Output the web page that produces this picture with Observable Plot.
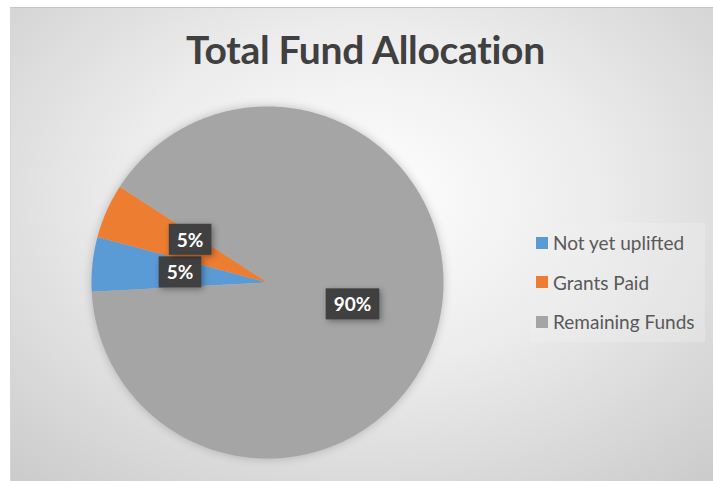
<!DOCTYPE html>
<html>
<head>
<meta charset="utf-8">
<script src="https://cdn.jsdelivr.net/npm/d3@7"></script>
<script src="https://cdn.jsdelivr.net/npm/@observablehq/plot@0.6"></script>
<style>
  body { margin: 0; background: #ffffff; font-family: Lato, "Open Sans", sans-serif; }
  #chart { position: relative; width: 713px; height: 481px; overflow: hidden; background: #ffffff; }
  #bg { position: absolute; left: 10px; top: 7px; right: 0; bottom: 0;
        background: radial-gradient(ellipse 75% 80% at 50% 40%, #ffffff 0%, #ececec 45%, #cbcbcb 100%);
        border-top: 1px solid #c4c4c4; border-left: 1px solid #d6d6d6; }
  #plot { position: absolute; left: 0; top: 0; }
  #title { position: absolute; left: 18px; right: 0; top: 26px; text-align: center;
           font-size: 39px; font-weight: 700; color: #404040; letter-spacing: -0.3px; }
  #legend { position: absolute; left: 530px; top: 223px; width: 175px; height: 119px;
            background: rgba(240,240,240,0.35); box-sizing: border-box; padding-top: 0px; }
  .li { height: 39.5px; display: flex; align-items: center; font-size: 19px; color: #595959; }
  .sw { width: 12px; height: 12px; margin-left: 6px; margin-right: 5px; flex: none; }
  .pie { filter: drop-shadow(0 0 5px rgba(0,0,0,0.22)); }
  .lab rect { filter: drop-shadow(2px 2px 3px rgba(0,0,0,0.35)); }
</style>
</head>
<body>
<div id="chart">
  <div id="bg"></div>
  <div id="plot"></div>
  <div id="title"></div>
  <div id="legend"></div>
</div>
<script>
// ---- data ----
const title = "Total Fund Allocation";
const categories = ["Not yet uplifted", "Grants Paid", "Remaining Funds"];
const values = [5, 5, 90];
const labels = ["5%", "5%", "90%"];
const colors = ["#5B9BD5", "#ED7D31", "#A5A5A5"];
const firstSliceAngle = 267; // degrees, clockwise from 12 o'clock

// ---- build slices ----
const rad = d => d * Math.PI / 180;
const arcs = d3.pie().sort(null)
  .startAngle(rad(firstSliceAngle))
  .endAngle(rad(firstSliceAngle + 360))(values);

const pts = [];
arcs.forEach((a, i) => {
  const cat = categories[i];
  pts.push({cat, x: 0, y: 0});
  const n = Math.max(2, Math.ceil((a.endAngle - a.startAngle) / rad(1)));
  for (let k = 0; k <= n; k++) {
    const t = a.startAngle + (a.endAngle - a.startAngle) * k / n;
    pts.push({cat, x: Math.sin(t), y: Math.cos(t)});
  }
});
const labelData = arcs.map((a, i) => {
  const m = (a.startAngle + a.endAngle) / 2;
  return {cat: categories[i], label: labels[i], x: 0.5 * Math.sin(m), y: 0.5 * Math.cos(m), i};
});

const plot = Plot.plot({
  width: 713, height: 481,
  marginLeft: 91, marginRight: 270, marginTop: 106, marginBottom: 23,
  x: {domain: [-1, 1], axis: null},
  y: {domain: [-1, 1], axis: null},
  color: {domain: categories, range: colors},
  style: {background: "transparent", overflow: "visible"},
  marks: [
    Plot.line(pts, {x: "x", y: "y", z: "cat", fill: "cat", stroke: null, curve: "linear-closed", className: "pie"}),
    Plot.text(labelData.filter(d => d.i !== 1), {x: "x", y: "y", text: "label", fill: "white",
      fontWeight: "bold", fontSize: 19, fontFamily: "Lato, sans-serif", className: "lab"}),
    Plot.text(labelData.filter(d => d.i === 1), {x: "x", y: "y", text: "label", fill: "white", dx: 3, dy: -6,
      fontWeight: "bold", fontSize: 19, fontFamily: "Lato, sans-serif", className: "lab"})
  ]
});
document.getElementById("plot").appendChild(plot);

// dark label boxes behind the text
plot.querySelectorAll("g.lab").forEach(g => {
  g.querySelectorAll("text").forEach(t => {
    const b = t.getBBox();
    const r = document.createElementNS("http://www.w3.org/2000/svg", "rect");
    r.setAttribute("x", b.x - 8);
    r.setAttribute("y", b.y - 4);
    r.setAttribute("width", b.width + 16);
    r.setAttribute("height", b.height + 8);
    r.setAttribute("fill", "#404040");
    const tr = t.getAttribute("transform");
    if (tr) r.setAttribute("transform", tr);
    t.parentNode.insertBefore(r, t);
  });
});

document.getElementById("title").textContent = title;
const lg = document.getElementById("legend");
categories.forEach((c, i) => {
  const row = document.createElement("div");
  row.className = "li";
  const sw = document.createElement("span");
  sw.className = "sw";
  sw.style.background = colors[i];
  row.appendChild(sw);
  row.appendChild(document.createTextNode(c));
  lg.appendChild(row);
});
</script>
</body>
</html>
